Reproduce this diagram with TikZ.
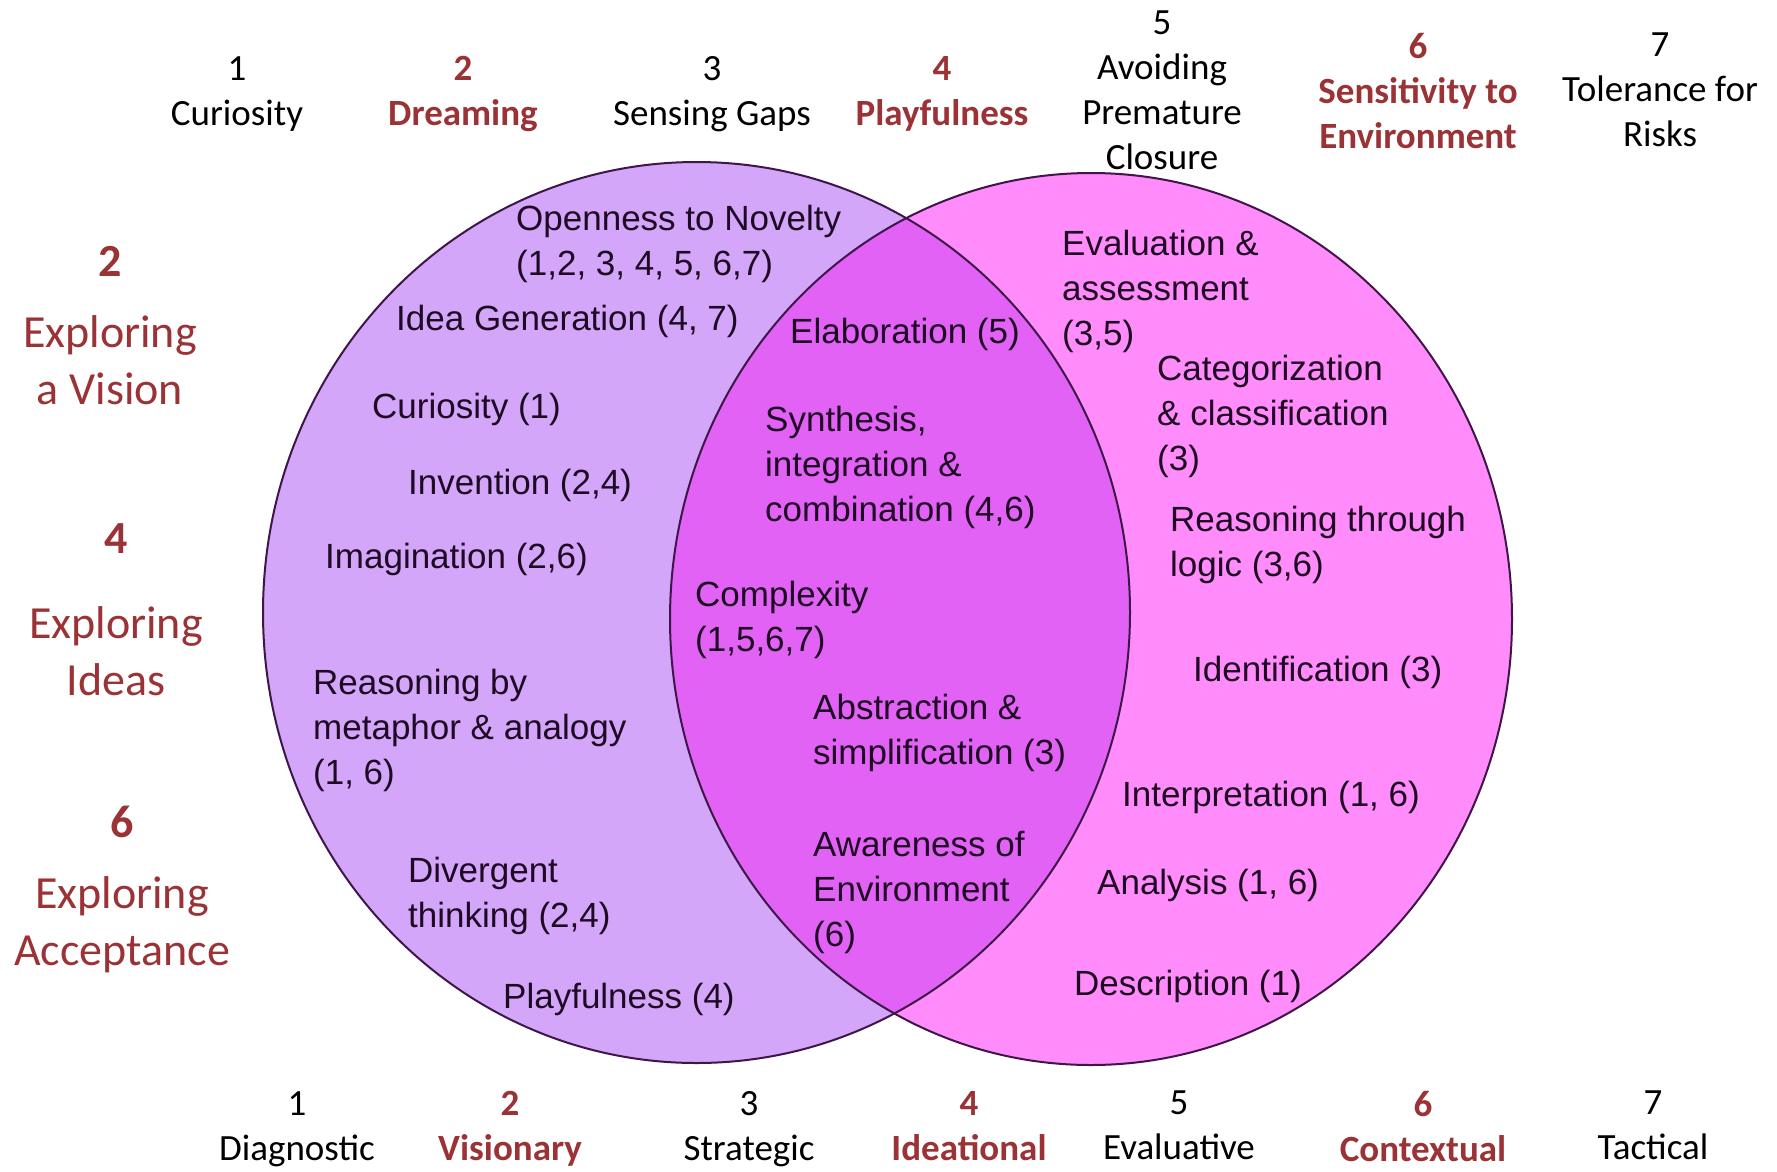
\documentclass[tikz,border=0pt]{standalone}
\usepackage{fontspec}
\setmainfont{Carlito}
\newfontfamily\vennfont{Liberation Sans}
\definecolor{stagered}{RGB}{155,51,54}
\definecolor{inkpurple}{RGB}{30,10,35}
\definecolor{edgepurple}{RGB}{62,22,72}
\definecolor{leftfill}{RGB}{211,166,250}
\definecolor{midfill}{RGB}{226,98,245}
\definecolor{rightfill}{RGB}{255,140,250}

\begin{document}
\begin{tikzpicture}[x=1pt, y=-1pt]
\tikzset{
topic/.style = {anchor=north, align=center, inner sep=0pt, font=\fontsize{37}{45}\selectfont},
topicred/.style = {topic, text=stagered, font=\fontsize{37}{45}\selectfont\bfseries},
phase/.style = {anchor=north, align=center, inner sep=0pt, text=stagered, font=\fontsize{46}{57}\selectfont},
skill/.style = {anchor=north west, align=left, inner sep=0pt, text=inkpurple, font=\vennfont\fontsize{35}{45}\selectfont},
set/.style = {draw=edgepurple, line width=2pt}
}
\useasboundingbox (0,0) rectangle (1777,1171);

% the two sets
\coordinate (lc) at (696.5,612.5);
\coordinate (rc) at (1091,619);
\fill[leftfill] (lc) ellipse [x radius=433.5, y radius=450.5];
\fill[rightfill] (rc) ellipse [x radius=421, y radius=446];
\begin{scope}
\clip (lc) ellipse [x radius=433.5, y radius=450.5];
\fill[midfill] (rc) ellipse [x radius=421, y radius=446];
\end{scope}
\draw[set] (lc) ellipse [x radius=433.5, y radius=450.5];
\draw[set] (rc) ellipse [x radius=421, y radius=446];

% top row
\node[topic] (curiosity) at (237,56) {1\\Curiosity};
\node[topicred] (dreaming) at (463,56) {2\\Dreaming};
\node[topic] (gaps) at (712,56) {3\\Sensing Gaps};
\node[topicred] (playful) at (942,56) {4\\Playfulness};
\node[topic] (closure) at (1162,11) {5\\Avoiding\\Premature\\Closure};
\node[topicred] (sensitivity) at (1418,33) {6\\Sensitivity to\\Environment};
\node[topic] (risks) at (1660,33) {7\\Tolerance for\\Risks};

% bottom row
\node[topic] (diagnostic) at (297,1091) {1\\Diagnostic};
\node[topicred] (visionary) at (510,1091) {2\\Visionary};
\node[topic] (strategic) at (749,1091) {3\\Strategic};
\node[topicred] (ideational) at (969,1091) {4\\Ideational};
\node[topic] (evaluative) at (1179,1091) {5\\Evaluative};
\node[topicred] (contextual) at (1423,1091) {6\\Contextual};
\node[topic] (tactical) at (1653,1091) {7\\Tactical};

% left column
\node[phase] (vision) at (110,246) {{\bfseries 2}\\[14pt]Exploring\\a Vision};
\node[phase] (ideas) at (116,523) {{\bfseries 4}\\[28pt]Exploring\\Ideas};
\node[phase] (acceptance) at (122,806) {{\bfseries 6}\\[14pt]Exploring\\Acceptance};

% left set
\node[skill] (openness) at (516,205) {Openness to Novelty\\(1,2, 3, 4, 5, 6,7)};
\node[skill] (ideagen) at (396,305) {Idea Generation (4, 7)};
\node[skill] (curio) at (372,393) {Curiosity (1)};
\node[skill] (invention) at (408,469) {Invention (2,4)};
\node[skill] (imagination) at (325,543) {Imagination (2,6)};
\node[skill] (metaphor) at (313,669) {Reasoning by\\metaphor \& analogy\\(1, 6)};
\node[skill] (divergent) at (408,857) {Divergent\\thinking (2,4)};
\node[skill] (play) at (503,983) {Playfulness (4)};

% overlap
\node[skill] (elaboration) at (790,318) {Elaboration (5)};
\node[skill] (synthesis) at (765,406) {Synthesis,\\integration \&\\combination (4,6)};
\node[skill] (complexity) at (695,581) {Complexity\\(1,5,6,7)};
\node[skill] (abstraction) at (813,694) {Abstraction \&\\simplification (3)};
\node[skill] (awareness) at (813,831) {Awareness of\\Environment\\(6)};

% right set
\node[skill] (evaluation) at (1062,230) {Evaluation \&\\assessment\\(3,5)};
\node[skill] (categor) at (1157,355) {Categorization\\\& classification\\(3)};
\node[skill] (logic) at (1170,506) {Reasoning through\\logic (3,6)};
\node[skill] (identif) at (1193,656) {Identification (3)};
\node[skill] (interp) at (1122,781) {Interpretation (1, 6)};
\node[skill] (analysis) at (1097,869) {Analysis (1, 6)};
\node[skill] (description) at (1074,970) {Description (1)};
\end{tikzpicture}
\end{document}
